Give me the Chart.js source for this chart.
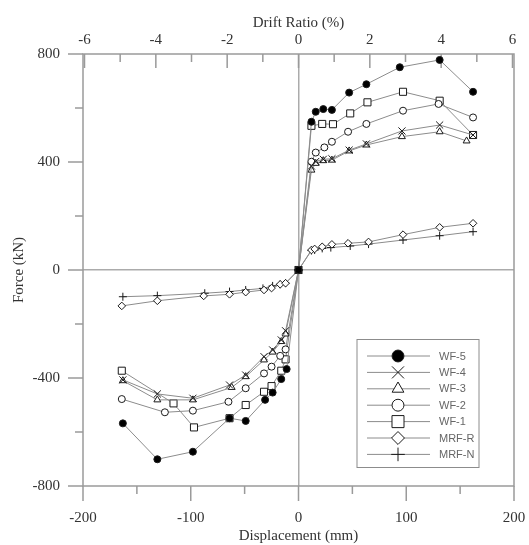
<!DOCTYPE html>
<html>
<head>
<meta charset="utf-8">
<script src="https://cdn.jsdelivr.net/npm/chart.js@4.4.0/dist/chart.umd.min.js"></script>
<style>
  html, body { margin: 0; padding: 0; background: #fff; }
</style>
</head>
<body>
<canvas id="grafico" width="529" height="545"></canvas>
<script>
// === DADOS ===
const seriesNames = ['WF-5', 'WF-4', 'WF-3', 'WF-2', 'WF-1', 'MRF-R', 'MRF-N'];

const dispWF5  = [-163, -131, -98, -64, -49, -31, -24, -16, -11, 0, 12, 16, 23, 31, 47, 63, 94, 131, 162];
const forceWF5 = [-568, -701, -673, -549, -559, -481, -454, -404, -367, 0, 549, 586, 596, 593, 657, 688, 751, 778, 660];

const dispWF4  = [-163, -131, -98, -64, -49, -32, -24, -16, -12, 0, 12, 16, 23, 31, 47, 63, 96, 131, 162];
const forceWF4 = [-407, -459, -475, -426, -389, -321, -296, -259, -225, 0, 385, 402, 410, 412, 444, 467, 515, 537, 500];

const dispWF3  = [-163, -131, -98, -62, -49, -32, -24, -16, -12, 0, 12, 16, 23, 31, 47, 63, 96, 131, 156];
const forceWF3 = [-410, -481, -481, -435, -395, -333, -304, -265, -237, 0, 370, 395, 405, 407, 441, 463, 494, 512, 478];

const dispWF2  = [-164, -124, -98, -65, -49, -32, -25, -17, -12, 0, 12, 16, 24, 31, 46, 63, 97, 130, 162];
const forceWF2 = [-478, -527, -521, -488, -438, -383, -358, -318, -294, 0, 401, 435, 454, 475, 512, 541, 590, 615, 565];

const dispWF1  = [-164, -116, -97, -64, -49, -32, -25, -16, -12, 0, 12, 22, 32, 48, 64, 97, 131, 162];
const forceWF1 = [-373, -494, -583, -549, -500, -451, -430, -373, -331, 0, 534, 541, 540, 580, 621, 660, 627, 500];

const dispMRFR  = [-164, -131, -88, -64, -49, -32, -25, -17, -12, 0, 12, 15, 22, 31, 46, 65, 97, 131, 162];
const forceMRFR = [-133, -114, -96, -90, -82, -74, -67, -53, -49, 0, 74, 78, 86, 95, 99, 104, 131, 158, 173];

const dispMRFN  = [-163, -131, -87, -64, -49, -33, -24, -17, -12, 0, 12, 15, 22, 30, 48, 65, 97, 131, 162];
const forceMRFN = [-99, -95, -86, -80, -74, -68, -59, -53, -49, 0, 72, 74, 80, 83, 89, 96, 111, 127, 142];

// eixos
const dispTicks  = [-200, -100, 0, 100, 200];
const dispMinor  = [-150, -50, 50, 150];
const forceTicks = [-800, -400, 0, 400, 800];
const forceMinor = [-600, -200, 200, 600];
const driftTicks = [-6, -4, -2, 0, 2, 4, 6];
const driftMinor = [-5, -3, -1, 1, 3, 5];
const mmPerDrift = 33.1;

// estilos
const styles = [
  { pointStyle: 'circle',   radius: 3.5, fill: '#000' },
  { pointStyle: 'crossRot', radius: 5,   fill: '#fff' },
  { pointStyle: 'triangle', radius: 4,   fill: '#fff' },
  { pointStyle: 'circle',   radius: 3.5, fill: '#fff' },
  { pointStyle: 'rect',     radius: 5,   fill: '#fff' },
  { pointStyle: 'rectRot',  radius: 3.8, fill: '#fff' },
  { pointStyle: 'cross',    radius: 4,   fill: '#fff' }
];

const allDisp  = [dispWF5, dispWF4, dispWF3, dispWF2, dispWF1, dispMRFR, dispMRFN];
const allForce = [forceWF5, forceWF4, forceWF3, forceWF2, forceWF1, forceMRFR, forceMRFN];

const serif = "'Liberation Serif', 'Times New Roman', serif";
const axisGray = '#9a9a9a';

const datasets = seriesNames.map((name, i) => ({
  label: name,
  data: allDisp[i].map((x, k) => ({ x: x, y: allForce[i][k] })),
  showLine: true,
  borderColor: '#8c8c8c',
  borderWidth: 1,
  pointStyle: styles[i].pointStyle,
  pointRadius: styles[i].radius,
  pointBackgroundColor: styles[i].fill,
  pointBorderColor: '#1a1a1a',
  pointBorderWidth: 1
}));

// moldura + ticks (menores e maiores) desenhados com as escalas
const frameTicks = {
  id: 'frameTicks',
  beforeDatasetsDraw(chart) {
    const { ctx, chartArea: a, scales } = chart;
    ctx.save();
    ctx.strokeStyle = axisGray;
    ctx.lineWidth = 1.5;
    ctx.strokeRect(a.left, a.top, a.right - a.left, a.bottom - a.top);
    ctx.beginPath();
    dispTicks.concat(dispMinor).forEach(v => {
      const x = scales.x.getPixelForValue(v);
      const len = dispTicks.includes(v) ? 15 : 8;
      ctx.moveTo(x, a.bottom); ctx.lineTo(x, a.bottom + len);
    });
    forceTicks.concat(forceMinor).forEach(v => {
      const y = scales.y.getPixelForValue(v);
      const len = forceTicks.includes(v) ? 15 : 8;
      ctx.moveTo(a.left, y); ctx.lineTo(a.left - len, y);
    });
    driftTicks.concat(driftMinor).forEach(v => {
      const x = scales.x2.getPixelForValue(v);
      const len = driftTicks.includes(v) ? 14 : 8;
      ctx.moveTo(x, a.top); ctx.lineTo(x, a.top + len);
    });
    ctx.stroke();
    ctx.restore();
  }
};

// legenda em caixa (linha atravessando o marcador)
const boxLegend = {
  id: 'boxLegend',
  afterDraw(chart) {
    const { ctx } = chart;
    ctx.save();
    ctx.strokeStyle = '#8c8c8c';
    ctx.lineWidth = 1;
    ctx.strokeRect(357, 339.5, 122, 128);
    chart.data.datasets.forEach((ds, i) => {
      const y = 356 + i * 16.4;
      ctx.strokeStyle = '#8c8c8c';
      ctx.lineWidth = 1;
      ctx.beginPath(); ctx.moveTo(367, y); ctx.lineTo(430, y); ctx.stroke();
      ctx.fillStyle = ds.pointBackgroundColor;
      ctx.strokeStyle = '#1a1a1a';
      Chart.helpers.drawPoint(ctx, {
        pointStyle: ds.pointStyle,
        radius: ds.pointRadius * 1.7,
        rotation: 0,
        borderWidth: 1
      }, 398, y);
      ctx.fillStyle = '#666';
      ctx.font = "11px 'Liberation Sans', Arial, sans-serif";
      ctx.textBaseline = 'middle';
      ctx.textAlign = 'left';
      ctx.fillText(ds.label, 439, y + 0.5);
    });
    ctx.restore();
  }
};

const zeroLine = c => (c.tick && c.tick.value === 0) ? '#ababab' : 'rgba(0,0,0,0)';
const tickFont = { family: serif, size: 15 };
const noSidePad = s => { s.paddingLeft = 0; s.paddingRight = 0; };

new Chart(document.getElementById('grafico'), {
  type: 'scatter',
  data: { datasets: datasets },
  options: {
    responsive: false,
    animation: false,
    devicePixelRatio: 1,
    layout: { padding: { left: 0, right: 15, top: 0, bottom: 0 } },
    plugins: {
      legend: { display: false },
      tooltip: { enabled: false }
    },
    scales: {
      x: {
        type: 'linear', position: 'bottom', min: -200, max: 200,
        afterBuildTicks: s => { s.ticks = dispTicks.map(v => ({ value: v })); },
        ticks: { padding: 23, color: '#333', font: tickFont, maxRotation: 0 },
        grid: { drawTicks: false, color: zeroLine, lineWidth: 1.5 },
        border: { display: false },
        title: { display: true, text: 'Displacement (mm)', color: '#333', font: tickFont, padding: { top: 0, bottom: 0 } },
        afterFit: s => { s.height = 59; noSidePad(s); }
      },
      x2: {
        type: 'linear', position: 'top',
        min: -200 / mmPerDrift, max: 200 / mmPerDrift,
        afterBuildTicks: s => { s.ticks = driftTicks.map(v => ({ value: v })); },
        ticks: { padding: -3, color: '#333', font: tickFont, maxRotation: 0 },
        grid: { display: false },
        border: { display: false },
        title: { display: true, text: 'Drift Ratio (%)', color: '#333', font: tickFont, padding: { top: 14, bottom: 0 } },
        afterFit: s => { s.height = 54; noSidePad(s); }
      },
      y: {
        type: 'linear', position: 'left', min: -800, max: 800,
        afterBuildTicks: s => { s.ticks = forceTicks.map(v => ({ value: v })); },
        ticks: { padding: 23, color: '#333', font: tickFont },
        grid: { drawTicks: false, color: zeroLine, lineWidth: 1.5 },
        border: { display: false },
        title: { display: true, text: 'Force (kN)', color: '#333', font: tickFont, padding: { top: 10, bottom: 0 } },
        afterFit: s => { s.width = 83; }
      }
    }
  },
  plugins: [frameTicks, boxLegend]
});
</script>
</body>
</html>
